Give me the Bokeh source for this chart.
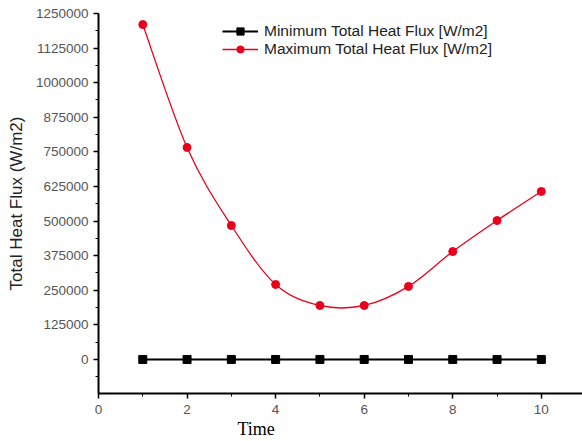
from bokeh.plotting import figure
from bokeh.models import (Range1d, SingleIntervalTicker, Legend, LegendItem, Title,
                          ColumnDataSource)
from bokeh.embed import file_html
from bokeh.resources import INLINE

time = [1, 2, 3, 4, 5, 6, 7, 8, 9, 10]
min_flux = [0, 0, 0, 0, 0, 0, 0, 0, 0, 0]
max_flux = [1210000, 766000, 484000, 271000, 195000, 195000, 264000, 390000, 502000, 607000]

p = figure(width=582, height=441, output_backend="svg", toolbar_location=None,
           x_range=Range1d(0, 10.93), y_range=Range1d(-123000, 1250000),
           min_border_left=98, min_border_right=0, min_border_top=13, min_border_bottom=48)
p.outline_line_color = None
p.xgrid.visible = False
p.ygrid.visible = False

# smooth (Catmull-Rom) bezier segments through the red data points
xs = time
ys = max_flux
n = len(xs)
x0, y0, x1, y1, cx0, cy0, cx1, cy1 = [], [], [], [], [], [], [], []
for i in range(n - 1):
    im1 = max(i - 1, 0)
    ip2 = min(i + 2, n - 1)
    x0.append(xs[i]); y0.append(ys[i]); x1.append(xs[i + 1]); y1.append(ys[i + 1])
    cx0.append(xs[i] + (xs[i + 1] - xs[im1]) / 6.0)
    cy0.append(ys[i] + (ys[i + 1] - ys[im1]) / 6.0)
    cx1.append(xs[i + 1] - (xs[ip2] - xs[i]) / 6.0)
    cy1.append(ys[i + 1] - (ys[ip2] - ys[i]) / 6.0)
bsrc = ColumnDataSource(dict(x0=x0, y0=y0, x1=x1, y1=y1, cx0=cx0, cy0=cy0, cx1=cx1, cy1=cy1))

bl = p.line(time, min_flux, line_color="black", line_width=2)
bs = p.scatter(time, min_flux, marker="square", size=8, fill_color="black", line_color="black")
rl = p.bezier(x0="x0", y0="y0", x1="x1", y1="y1", cx0="cx0", cy0="cy0", cx1="cx1", cy1="cy1",
              source=bsrc, line_color="#e8001c", line_width=1.3)
rs = p.scatter(time, max_flux, marker="circle", size=8, fill_color="#e8001c", line_color="#e8001c")

legend = Legend(items=[LegendItem(label="Minimum Total Heat Flux [W/m2]", renderers=[bl, bs]),
                       LegendItem(label="Maximum Total Heat Flux [W/m2]", renderers=[rl, rs])],
                location=(124, 335), border_line_color=None, background_fill_alpha=0,
                label_text_font="Liberation Sans", label_text_font_size="15.5px",
                label_text_color="#222222", glyph_width=36, glyph_height=18,
                spacing=0, padding=0, margin=0, label_standoff=6, label_height=18)
p.add_layout(legend, "center")

for ax in (p.xaxis[0], p.yaxis[0]):
    ax.axis_line_width = 2
    ax.axis_line_color = "black"
    ax.major_tick_line_color = "black"
    ax.minor_tick_line_color = "black"
    ax.major_tick_line_width = 1.5
    ax.major_tick_in = 0
    ax.major_tick_out = 5
    ax.minor_tick_in = 0
    ax.minor_tick_out = 3
    ax.major_label_text_font = "Liberation Sans"
    ax.major_label_text_font_size = "13.5px"
    ax.major_label_text_color = "#555555"

p.yaxis.ticker = SingleIntervalTicker(interval=125000, num_minor_ticks=2)
p.xaxis.ticker = SingleIntervalTicker(interval=2, num_minor_ticks=2)
p.yaxis.formatter.use_scientific = False
p.yaxis.major_label_standoff = 5
p.yaxis.axis_label = "Total Heat Flux (W/m2)"
p.yaxis.axis_label_text_font = "Liberation Sans"
p.yaxis.axis_label_text_font_style = "normal"
p.yaxis.axis_label_text_font_size = "17px"
p.yaxis.axis_label_text_color = "#222222"
p.yaxis.axis_label_standoff = 7
p.xaxis.major_label_standoff = 6

p.add_layout(Title(text="Time", align="left", offset=139, text_font="Liberation Serif",
                   text_font_size="18px", text_font_style="normal", text_color="black",
                   standoff=0), "below")

open("out.html", "w").write(file_html(p, INLINE))
